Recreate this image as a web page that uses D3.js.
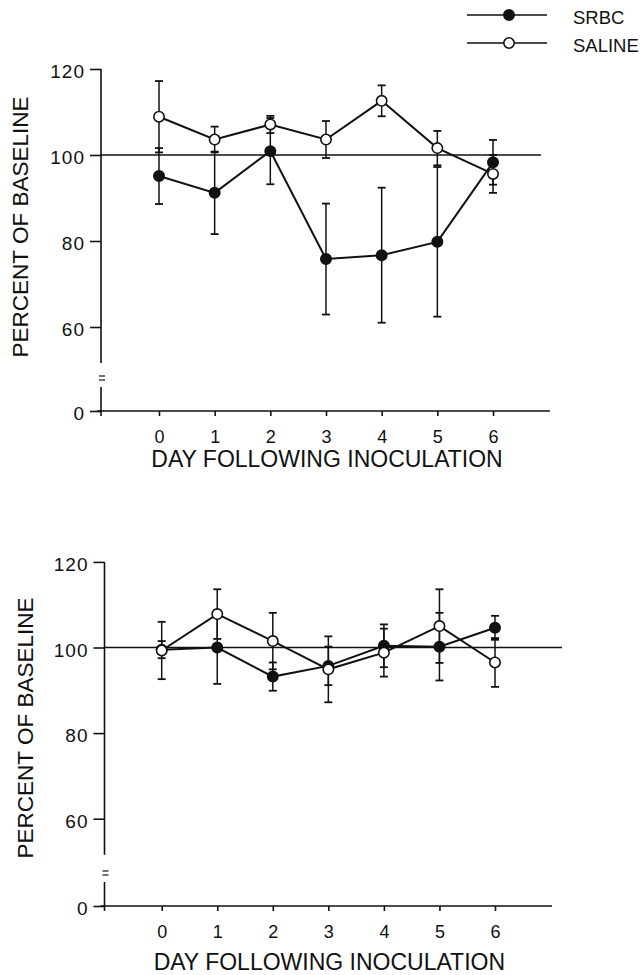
<!DOCTYPE html>
<html>
<head>
<meta charset="utf-8">
<script src="https://cdn.jsdelivr.net/npm/d3@7"></script>
<style>
  body { margin: 0; background: #fff; }
  text { font-family: "Liberation Sans", Arial, Helvetica, sans-serif; fill: #111; }
</style>
</head>
<body>
<script>
// days and values
var days = [0, 1, 2, 3, 4, 5, 6];
var yTicks = [0, 60, 80, 100, 120];

var srbcTop      = [95.1, 91.2, 100.9, 75.8, 76.7, 79.8, 98.3];
var srbcTopErr   = [6.5, 9.6, 7.7, 12.9, 15.7, 17.4, 5.2];
var salineTop    = [108.9, 103.6, 107.1, 103.6, 112.6, 101.6, 95.6];
var salineTopErr = [8.3, 3.0, 2.0, 4.3, 3.6, 4.0, 4.4];

var srbcBot      = [99.5, 100.0, 93.2, 95.7, 100.4, 100.2, 104.6];
var srbcBotErr   = [2.0, 8.5, 3.3, 4.5, 5.0, 7.9, 2.8];
var salineBot    = [99.3, 107.8, 101.5, 94.9, 98.8, 105.0, 96.5];
var salineBotErr = [6.7, 5.8, 6.6, 7.7, 5.6, 8.6, 5.7];

var W = 644, H = 975;
var svg = d3.select("body").append("svg")
            .attr("width", W)
            .attr("height", H);

var ink = "#111";

function drawPanel(p) {
  var g = svg.append("g");

  var x = d3.scaleLinear().domain([0, 6]).range([p.x0, p.x6]);
  // broken axis: 0 sits below the break, 50..120 is linear
  var y = d3.scaleLinear().domain([0, 50, 120]).range([p.yZero, p.y50, p.y120]);

  // upper axis segment, break marks, lower segment
  g.append("line")
    .attr("x1", p.ax).attr("x2", p.ax)
    .attr("y1", y(120)).attr("y2", y(51.6))
    .attr("stroke", ink).attr("stroke-width", 1.6);
  g.append("line")
    .attr("x1", p.ax).attr("x2", p.ax)
    .attr("y1", y(0) - 24).attr("y2", y(0))
    .attr("stroke", ink).attr("stroke-width", 1.6);
  [35, 31].forEach(function(o){
    g.append("line")
      .attr("x1", p.ax - 2).attr("x2", p.ax + 4)
      .attr("y1", y(0) - o).attr("y2", y(0) - o)
      .attr("stroke", ink).attr("stroke-width", 1.2);
  });

  // x axis line
  g.append("line")
    .attr("x1", p.ax - 4).attr("x2", p.xEnd)
    .attr("y1", y(0)).attr("y2", y(0))
    .attr("stroke", ink).attr("stroke-width", 1.6);

  // y ticks
  var yAxis = g.append("g")
    .attr("transform", "translate(" + p.ax + ",0)")
    .call(d3.axisLeft(y).tickValues(yTicks).tickSize(11).tickPadding(5).tickSizeOuter(0));
  yAxis.select(".domain").remove();
  yAxis.selectAll("line").attr("stroke", ink).attr("stroke-width", 1.6);
  yAxis.selectAll("text")
    .attr("font-size", 19)
    .attr("letter-spacing", 1)
    .attr("font-family", "Liberation Sans, Arial, sans-serif")
    .attr("fill", ink)
    .attr("dy", "0.45em");
  // small tick under the axis corner
  g.append("line")
    .attr("x1", p.ax).attr("x2", p.ax)
    .attr("y1", y(0)).attr("y2", y(0) + 5)
    .attr("stroke", ink).attr("stroke-width", 1.6);

  // x ticks
  var xAxis = g.append("g")
    .attr("transform", "translate(0," + y(0) + ")")
    .call(d3.axisBottom(x).tickValues(days).tickFormat(d3.format("d"))
      .tickSize(5).tickPadding(14).tickSizeOuter(0));
  xAxis.select(".domain").remove();
  xAxis.selectAll("line").attr("stroke", ink).attr("stroke-width", 1.6);
  xAxis.selectAll("text")
    .attr("font-size", 18)
    .attr("font-family", "Liberation Sans, Arial, sans-serif")
    .attr("fill", ink);

  // 100 % reference line
  g.append("line")
    .attr("x1", p.ax).attr("x2", p.refEnd)
    .attr("y1", y(100)).attr("y2", y(100))
    .attr("stroke", ink).attr("stroke-width", 1.6);

  // titles
  g.append("text")
    .text("DAY FOLLOWING INOCULATION")
    .attr("x", (x(0) + x(6)) / 2 + 1)
    .attr("y", p.xTitleY)
    .attr("font-size", 23)
    .style("text-anchor", "middle");
  g.append("text")
    .text("PERCENT OF BASELINE")
    .attr("transform", "translate(" + p.yTitleX + "," + p.yTitleMid + ") rotate(-90)")
    .attr("font-size", 22.5)
    .style("text-anchor", "middle");

  var series = [
    {vals: p.srbc, err: p.srbcErr, fill: ink},
    {vals: p.saline, err: p.salineErr, fill: "#fff"}
  ];

  // error bars
  series.forEach(function(s){
    var eb = g.append("g");
    days.forEach(function(d, i){
      var hi = s.vals[i] + s.err[i], lo = s.vals[i] - s.err[i];
      eb.append("line")
        .attr("x1", x(d)).attr("x2", x(d))
        .attr("y1", y(hi)).attr("y2", y(lo))
        .attr("stroke", ink).attr("stroke-width", 1.5);
      [hi, lo].forEach(function(v){
        eb.append("line")
          .attr("x1", x(d) - 4).attr("x2", x(d) + 4)
          .attr("y1", y(v)).attr("y2", y(v))
          .attr("stroke", ink).attr("stroke-width", 1.8);
      });
    });
  });

  var line = d3.line()
    .x(function(d, i){ return x(days[i]); })
    .y(function(d){ return y(d); });

  series.forEach(function(s){
    g.append("path")
      .datum(s.vals)
      .attr("d", line)
      .attr("fill", "none")
      .attr("stroke", ink)
      .attr("stroke-width", 2);
  });

  series.forEach(function(s){
    g.selectAll(null)
      .data(s.vals).enter().append("circle")
      .attr("cx", function(d, i){ return x(days[i]); })
      .attr("cy", function(d){ return y(d); })
      .attr("r", 5.2)
      .attr("fill", s.fill)
      .attr("stroke", ink)
      .attr("stroke-width", 1.6);
  });
}

drawPanel({
  ax: 101, x0: 159, x6: 493, xEnd: 550, refEnd: 541,
  yZero: 411, y50: 370, y120: 69,
  xTitleY: 467, yTitleX: 28, yTitleMid: 227,
  srbc: srbcTop, srbcErr: srbcTopErr, saline: salineTop, salineErr: salineTopErr
});

drawPanel({
  ax: 104.5, x0: 161.7, x6: 495, xEnd: 552, refEnd: 562,
  yZero: 906, y50: 861.5, y120: 561.9,
  xTitleY: 970, yTitleX: 33, yTitleMid: 728,
  srbc: srbcBot, srbcErr: srbcBotErr, saline: salineBot, salineErr: salineBotErr
});

// legend
var legend = [
  {label: "SRBC", fill: ink, y: 15},
  {label: "SALINE", fill: "#fff", y: 43}
];
var lg = svg.append("g");
legend.forEach(function(d){
  lg.append("line")
    .attr("x1", 467).attr("x2", 547)
    .attr("y1", d.y).attr("y2", d.y)
    .attr("stroke", ink).attr("stroke-width", 1.6);
  lg.append("circle")
    .attr("cx", 509).attr("cy", d.y).attr("r", 5.2)
    .attr("fill", d.fill).attr("stroke", ink).attr("stroke-width", 1.6);
  lg.append("text")
    .text(d.label)
    .attr("x", 573).attr("y", d.y + 8.5)
    .attr("font-size", 18.5);
});
</script>
</body>
</html>
